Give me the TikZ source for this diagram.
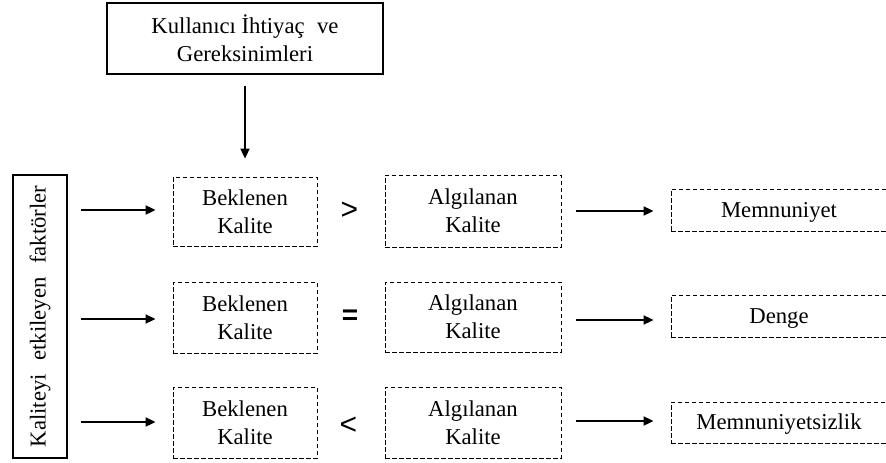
\documentclass[tikz,border=0pt]{standalone}
\usepackage{fontspec}
\setmainfont{Liberation Serif}
\newfontfamily\symfont{Liberation Sans}
\usetikzlibrary{arrows.meta}
\begin{document}
\begin{tikzpicture}[x=1pt,y=-1pt,
  txt/.style={font=\fontsize{22.7}{28}\selectfont},
  solidbox/.style={draw, line width=1.1pt, inner sep=0pt, align=center, txt},
  dashbox/.style={draw, line width=0.9pt, dash pattern=on 4.5pt off 2.5pt, inner sep=0pt, align=center, txt},
  resbox/.style={draw, line width=0.9pt, dash pattern=on 4.5pt off 2.5pt, inner sep=0pt, txt,
    minimum width=216pt, minimum height=42pt, text height=17pt, text depth=3pt},
  arr/.style={line width=2pt, -{Triangle[length=10pt,width=9pt]}},
  rel/.style={font=\symfont\fontsize{30}{30}\selectfont, inner sep=0pt}
]
\fill[white] (0,0) rectangle (886,463);
\path[use as bounding box, clip] (0,0) rectangle (886,463);

% top box
\node[solidbox, minimum width=276pt, minimum height=71pt] (top) at (245,38.5)
  {Kullanıcı İhtiyaç\hspace{0.3em} ve\\Gereksinimleri};

% left box
\node[solidbox, rotate=90, minimum width=283pt, minimum height=54pt] (lf) at (40,316.5)
  {Kaliteyi\hspace{0.35em} etkileyen\hspace{0.35em} faktörler};

% Beklenen boxes
\node[dashbox, minimum width=144pt, minimum height=69pt] (b1) at (245,211.5) {Beklenen\\Kalite};
\node[dashbox, minimum width=144pt, minimum height=71pt] (b2) at (245,317.5) {Beklenen\\Kalite};
\node[dashbox, minimum width=144pt, minimum height=71pt] (b3) at (245,422.5) {Beklenen\\Kalite};

% Algilanan boxes
\node[dashbox, minimum width=176pt, minimum height=72pt] (a1) at (473,211) {Algılanan\\Kalite};
\node[dashbox, minimum width=176pt, minimum height=70pt] (a2) at (473,317) {Algılanan\\Kalite};
\node[dashbox, minimum width=176pt, minimum height=71pt] (a3) at (473,422.5) {Algılanan\\Kalite};

% result boxes
\node[resbox] (r1) at (779,210) {Memnuniyet};
\node[resbox] (r2) at (779,316) {Denge};
\node[resbox, minimum height=41pt] (r3) at (779,422.5) {Memnuniyetsizlik};

% relation symbols
\node[rel] (s1) at (349.5,211) {>};
\node[rel, font=\symfont\bfseries\fontsize{28}{28}\selectfont] (s2) at (350,317) {=};
\node[rel] (s3) at (348.5,425.5) {<};

% arrows
\draw[arr, shorten <=11pt, shorten >=18pt] (top.south) -- (b1.north);
\draw[arr, shorten <=13pt, shorten >=17pt] (lf.south |- 0,210) coordinate (l1) -- (l1 -| b1.west);
\draw[arr, shorten <=13pt, shorten >=17pt] (lf.south |- 0,319) coordinate (l2) -- (l2 -| b2.west);
\draw[arr, shorten <=13pt, shorten >=17pt] (lf.south |- 0,422) coordinate (l3) -- (l3 -| b3.west);
\draw[arr, shorten <=15pt, shorten >=17pt] (a1.east |- 0,211) coordinate (m1) -- (m1 -| r1.west);
\draw[arr, shorten <=15pt, shorten >=17pt] (a2.east |- 0,320) coordinate (m2) -- (m2 -| r2.west);
\draw[arr, shorten <=15pt, shorten >=17pt] (a3.east |- 0,421) coordinate (m3) -- (m3 -| r3.west);
\end{tikzpicture}
\end{document}
